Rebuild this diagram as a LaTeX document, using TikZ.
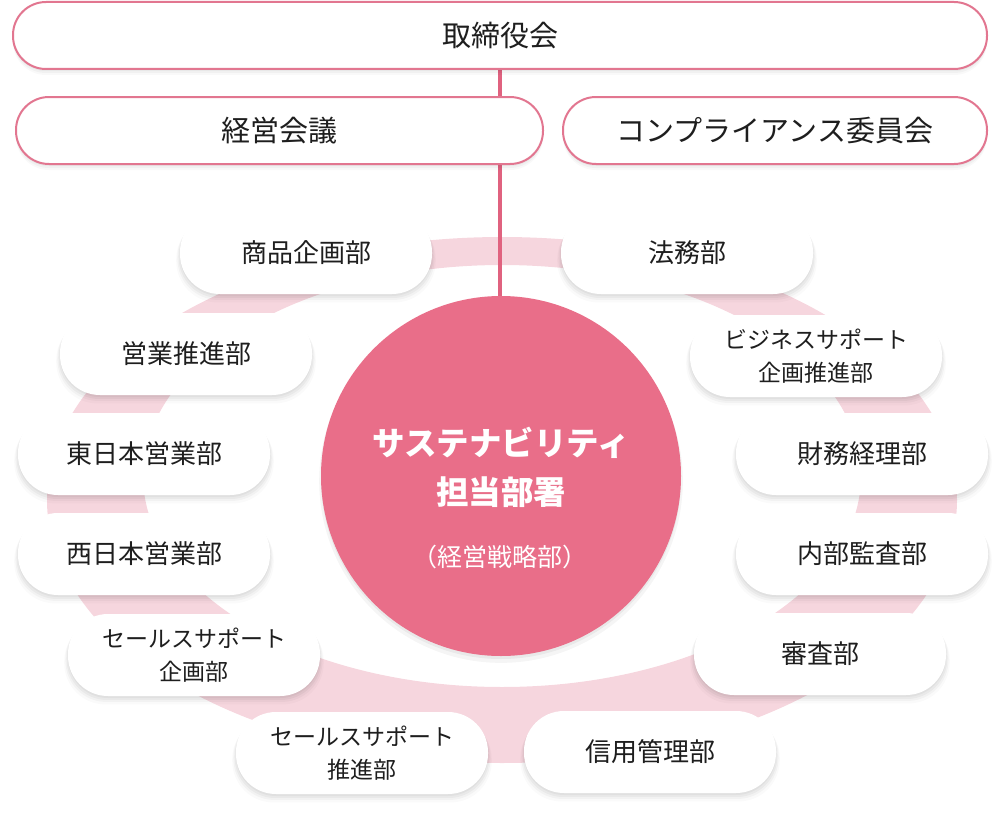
\documentclass[tikz,border=0pt]{standalone}
\usepackage{fontspec}
\newfontfamily\jp{Noto Sans CJK JP}
\usetikzlibrary{shadows}
\definecolor{mainpink}{HTML}{E96E89}
\definecolor{ringpink}{HTML}{F6D6DE}
\definecolor{borderpink}{HTML}{E27690}
\definecolor{linepink}{HTML}{E0627F}
\definecolor{txt}{HTML}{1E1E1E}
\pgfdeclarelayer{ringlayer}
\pgfdeclarelayer{linelayer}
\pgfsetlayers{ringlayer,linelayer,main}
\tikzset{
  softshadow/.style={
    general shadow={shadow yshift=-7pt, shadow scale=1.03, fill=black, opacity=0.02},
    general shadow={shadow yshift=-5pt, shadow scale=1.02, fill=black, opacity=0.03},
    general shadow={shadow yshift=-3.5pt, shadow scale=1.01, fill=black, opacity=0.04},
    general shadow={shadow yshift=-2pt, fill=black, opacity=0.04}},
  flatshadow/.style={
    general shadow={shadow yshift=-6pt, fill=black, opacity=0.025},
    general shadow={shadow yshift=-4pt, fill=black, opacity=0.03},
    general shadow={shadow yshift=-2pt, fill=black, opacity=0.04}},
  topbox/.style={draw=borderpink, line width=2pt, fill=white, rounded corners=33pt,
    minimum height=67pt, text=txt, font=\jp\fontsize{29}{34}\selectfont, flatshadow},
  pill/.style={fill=white, rounded corners=40pt, minimum width=252pt, minimum height=82pt,
    text=txt, font=\jp\fontsize{26}{30}\selectfont, align=center, softshadow},
  pilltwo/.style={pill, font=\jp\fontsize{23}{33}\selectfont},
  centertitle/.style={text=white, font=\jp\bfseries\fontsize{32.5}{38}\selectfont},
  centersub/.style={text=white, font=\jp\fontsize{25}{30}\selectfont},
}
\begin{document}
\begin{tikzpicture}[x=1pt,y=-1pt]
\useasboundingbox (0,0) rectangle (1004,816);

% top boxes
\node[topbox, minimum width=974pt] (board) at (500,35.5) {取締役会};
\node[topbox, minimum width=527pt] (mgmt) at (279.5,130.5) {経営会議};
\node[topbox, minimum width=424pt] (comp) at (775,130.5) {コンプライアンス委員会};

% central circle
\node[circle, fill=mainpink, minimum size=360pt, inner sep=0pt,
  general shadow={shadow yshift=-5pt, shadow scale=1.01, fill=black, opacity=0.04},
  general shadow={shadow yshift=-3pt, fill=black, opacity=0.05}] (sus) at (501,476) {};
\node[centertitle] (sust1) at (501,443) {サステナビリティ};
\node[centertitle] (sust2) at (501,492) {担当部署};
\node[centersub] (sust3) at (500,557) {（経営戦略部）};

% departments
\node[pill] (shohin) at (306,253) {商品企画部};
\node[pill] (homu) at (687,253) {法務部};
\node[pill] (eigyo) at (186,354) {営業推進部};
\node[pilltwo] (biz) at (816,356) {ビジネスサポート\\企画推進部};
\node[pill] (higashi) at (144,454) {東日本営業部};
\node[pill] (zaimu) at (862,454) {財務経理部};
\node[pill] (nishi) at (144,554) {西日本営業部};
\node[pill] (naibu) at (862,554) {内部監査部};
\node[pilltwo] (sales1) at (194,655) {セールスサポート\\企画部};
\node[pill] (shinsa) at (820,654) {審査部};
\node[pilltwo] (sales2) at (362,753) {セールスサポート\\推進部};
\node[pill] (shinyo) at (650,752) {信用管理部};

\begin{pgfonlayer}{ringlayer}
  \fill[ringpink, even odd rule] (502,500) ellipse [x radius=455, y radius=263]
        (502,476) ellipse [x radius=359, y radius=211];
\end{pgfonlayer}
\begin{pgfonlayer}{linelayer}
  \draw[linepink, line width=4pt] (board.south) -- (board.south |- sus.north);
\end{pgfonlayer}
\end{tikzpicture}
\end{document}
